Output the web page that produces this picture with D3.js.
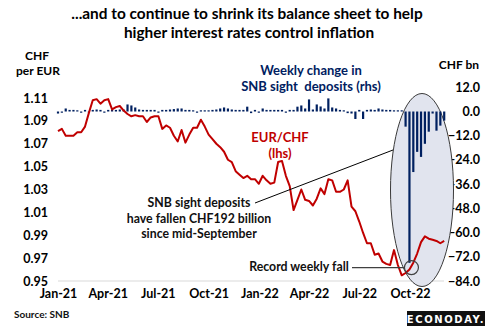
<!DOCTYPE html>
<html>
<head>
<meta charset="utf-8">
<script src="https://cdn.jsdelivr.net/npm/d3@7"></script>
<style>
  html, body { margin: 0; padding: 0; background: #fff; }
  svg { display: block; font-family: Lato, "Open Sans", sans-serif; }
  text { white-space: pre; }
</style>
</head>
<body>
<svg id="chart" width="489" height="326"></svg>
<script>
// Weekly observations, starting the first Friday of 2021
const firstWeek = new Date(2021, 0, 1);

// EUR/CHF exchange rate (left axis)
const eurChf = [
  1.081, 1.083, 1.077, 1.077, 1.077, 1.080, 1.080, 1.085, 1.097, 1.108,
  1.109, 1.105, 1.108, 1.109, 1.100, 1.102, 1.103, 1.099, 1.096, 1.094,
  1.095, 1.094, 1.094, 1.089, 1.093, 1.094, 1.094, 1.083, 1.086, 1.084,
  1.077, 1.072, 1.082, 1.071, 1.078, 1.084, 1.084, 1.091, 1.085, 1.078,
  1.074, 1.070, 1.067, 1.063, 1.056, 1.054, 1.046, 1.043, 1.040, 1.042,
  1.039, 1.039, 1.035, 1.042, 1.038, 1.035, 1.036, 1.054, 1.055, 1.042,
  1.033, 1.012, 1.021, 1.030, 1.021, 1.020, 1.016, 1.022, 1.031, 1.026,
  1.039, 1.038, 1.028, 1.028, 1.030, 1.038, 1.015, 1.011, 1.002, 0.992,
  0.983, 0.983, 0.973, 0.974, 0.967, 0.965, 0.964, 0.977, 0.964, 0.955,
  0.957, 0.960, 0.966, 0.974, 0.984, 0.989, 0.987, 0.986, 0.985, 0.983,
  0.985
];

// Weekly change in SNB sight deposits, CHF bn (right axis)
const sightDepositChange = [
  -1, -0.6, 1.5, 0.8, 0.8, 0.6, -0.6, 0.8, -0.6, 0.8,
  1, 0.8, -0.6, 0.8, 0.8, 0.8, 1, 1, 3.5, 3,
  2, 1, 0.8, 0.8, 0.8, 0.8, -0.6, 0.8, 0.8, 1,
  1.2, 1.5, 1.5, 0.8, 0.8, 0.6, -0.6, 0.6, 0.6, 0.6,
  0.8, 1, 1.5, 2, 1.5, 1, 0.8, 0.8, 0.8, 2.4,
  -0.8, 0.8, -0.6, 1.5, 0.8, 0.8, 0.8, 0.8, 0.8, -0.6,
  0.8, 0.8, 2.4, 3, 1.5, 6, 1, 3.5, 2.5, 1.5,
  6.5, 2, 1.5, 0.8, 0.6, -0.8, -1, -3.7, 0.8, -3.7,
  0.8, 1, 0.8, 1.5, 1, 0.8, 0.8, 0.6, 0.6, 0.6,
  -7.5, -75, -30, -20, -22.5, -16, -10, -1, -9.5, -7,
  -4.5
];

const leftTicks = [0.95, 0.97, 0.99, 1.01, 1.03, 1.05, 1.07, 1.09, 1.11];
const rightTicks = [-84, -72, -60, -48, -36, -24, -12, 0, 12];
const recordFallIndex = 91;

const weeks = eurChf.map((_, i) => d3.timeDay.offset(firstWeek, 7 * i));

const svg = d3.select("#chart");
const RED = "#c00000", NAVY = "#002060";

const x = d3.scaleTime()
  .domain([new Date(2021, 0, 1), new Date(2022, 9, 1)])
  .range([58, 410]);
const yL = d3.scaleLinear().domain([0.95, 1.11]).range([281, 98]);
const yR = d3.scaleLinear().domain([-84, 12]).range([281, 87.3]);

// Title
svg.append("text").attr("x", 247).attr("y", 19).attr("text-anchor", "middle")
  .attr("font-size", 15.4).attr("font-weight", 700).attr("fill", "#000")
  .text("...and to continue to shrink its balance sheet to help");
svg.append("text").attr("x", 249).attr("y", 38).attr("text-anchor", "middle")
  .attr("font-size", 15.4).attr("font-weight", 700).attr("fill", "#000")
  .text("higher interest rates control inflation");

// Axis titles
svg.append("text").attr("x", 37).attr("y", 60).attr("text-anchor", "middle")
  .attr("font-size", 12).attr("font-weight", 700).text("CHF");
svg.append("text").attr("x", 38).attr("y", 75).attr("text-anchor", "middle")
  .attr("font-size", 12).attr("font-weight", 700).text("per EUR");
svg.append("text").attr("x", 479).attr("y", 69).attr("text-anchor", "end")
  .attr("font-size", 12).attr("font-weight", 700).text("CHF bn");

// Baseline gridline
svg.append("line").attr("x1", 58).attr("x2", 444)
  .attr("y1", yL(0.95)).attr("y2", yL(0.95))
  .attr("stroke", "#d9d9d9").attr("stroke-width", 1);

// Left axis
const gL = svg.append("g").attr("transform", "translate(48,0)")
  .call(d3.axisLeft(yL).tickValues(leftTicks).tickSize(0).tickPadding(0)
    .tickFormat(d3.format(".2f")));
gL.select(".domain").remove();
gL.selectAll("text").attr("font-size", 12.5).attr("font-weight", 700)
  .attr("fill", "#000").attr("font-family", "Lato, sans-serif");

// Right axis
const gR = svg.append("g").attr("transform", "translate(480,0)")
  .call(d3.axisLeft(yR).tickValues(rightTicks).tickSize(0).tickPadding(0)
    .tickFormat(d3.format(".1f")));
gR.select(".domain").remove();
gR.selectAll("text").attr("font-size", 12.5).attr("font-weight", 700)
  .attr("fill", "#000").attr("font-family", "Lato, sans-serif");

// Bottom axis
const gX = svg.append("g").attr("transform", "translate(0,289)")
  .call(d3.axisBottom(x).ticks(d3.timeMonth.every(3)).tickSize(0).tickPadding(0)
    .tickFormat(d3.timeFormat("%b-%y")));
gX.select(".domain").remove();
gX.selectAll("text").attr("font-size", 12.5).attr("font-weight", 700)
  .attr("fill", "#000").attr("font-family", "Lato, sans-serif");

// Highlight ellipse around the recent outflows
svg.append("ellipse").attr("cx", 422).attr("cy", 190).attr("rx", 31.5).attr("ry", 96.5)
  .attr("fill", "#e1e4ee").attr("stroke", "#3a3a3a").attr("stroke-width", 1);

// Weekly change bars
svg.append("g").selectAll("rect").data(sightDepositChange).join("rect")
  .attr("x", (d, i) => x(weeks[i]) - 1.1)
  .attr("width", 2.2)
  .attr("y", d => Math.min(yR(d), yR(0)))
  .attr("height", d => Math.abs(yR(d) - yR(0)))
  .attr("fill", NAVY);

// EUR/CHF line
svg.append("path").datum(eurChf)
  .attr("fill", "none").attr("stroke", RED).attr("stroke-width", 2)
  .attr("stroke-linejoin", "round")
  .attr("d", d3.line().x((d, i) => x(weeks[i])).y(d => yL(d)));

// Series labels
svg.append("text").attr("x", 311).attr("y", 75).attr("text-anchor", "middle")
  .attr("font-size", 13).attr("font-weight", 700).attr("fill", NAVY)
  .text("Weekly change in");
svg.append("text").attr("x", 311).attr("y", 91).attr("text-anchor", "middle")
  .attr("font-size", 13).attr("font-weight", 700).attr("fill", NAVY)
  .text("SNB sight  deposits (rhs)");
svg.append("text").attr("x", 280).attr("y", 142).attr("text-anchor", "middle")
  .attr("font-size", 13).attr("font-weight", 700).attr("fill", RED)
  .text("EUR/CHF");
svg.append("text").attr("x", 280).attr("y", 158).attr("text-anchor", "middle")
  .attr("font-size", 13).attr("font-weight", 700).attr("fill", RED)
  .text("(lhs)");

// Annotation: cumulative fall
svg.append("line").attr("x1", 255).attr("y1", 203).attr("x2", 393).attr("y2", 150)
  .attr("stroke", "#000").attr("stroke-width", 1);
["SNB sight deposits", "have fallen CHF192 billion", "since mid-September"]
  .forEach((t, k) => {
    svg.append("text").attr("x", 199).attr("y", 207 + k * 15.7)
      .attr("text-anchor", "middle").attr("font-size", 12.3).attr("font-weight", 700)
      .attr("fill", "#111").text(t);
  });

// Annotation: record weekly fall
const recX = x(weeks[recordFallIndex]) + 2;
const recY = yL(eurChf[recordFallIndex]) - 2;
svg.append("line").attr("x1", 352).attr("y1", recY).attr("x2", recX - 7).attr("y2", recY)
  .attr("stroke", "#404040").attr("stroke-width", 1.3);
svg.append("circle").attr("cx", recX).attr("cy", recY).attr("r", 7)
  .attr("fill", "none").attr("stroke", "#404040").attr("stroke-width", 1.2);
svg.append("text").attr("x", 299).attr("y", 271).attr("text-anchor", "middle")
  .attr("font-size", 12.3).attr("font-weight", 700).attr("fill", "#111")
  .text("Record weekly fall");

// Source
svg.append("text").attr("x", 14).attr("y", 318)
  .attr("font-size", 10).attr("font-weight", 700).attr("fill", "#111")
  .text("Source: SNB");

// Brand badge
svg.append("rect").attr("x", 407).attr("y", 311).attr("width", 78).attr("height", 15)
  .attr("fill", "#111");
svg.append("text").attr("x", 446).attr("y", 322.5).attr("text-anchor", "middle")
  .attr("font-size", 10).attr("font-weight", 900).attr("fill", "#fff")
  .attr("letter-spacing", 1.6).attr("font-family", "'DejaVu Sans', sans-serif")
  .text("ECONODAY.");
</script>
</body>
</html>
